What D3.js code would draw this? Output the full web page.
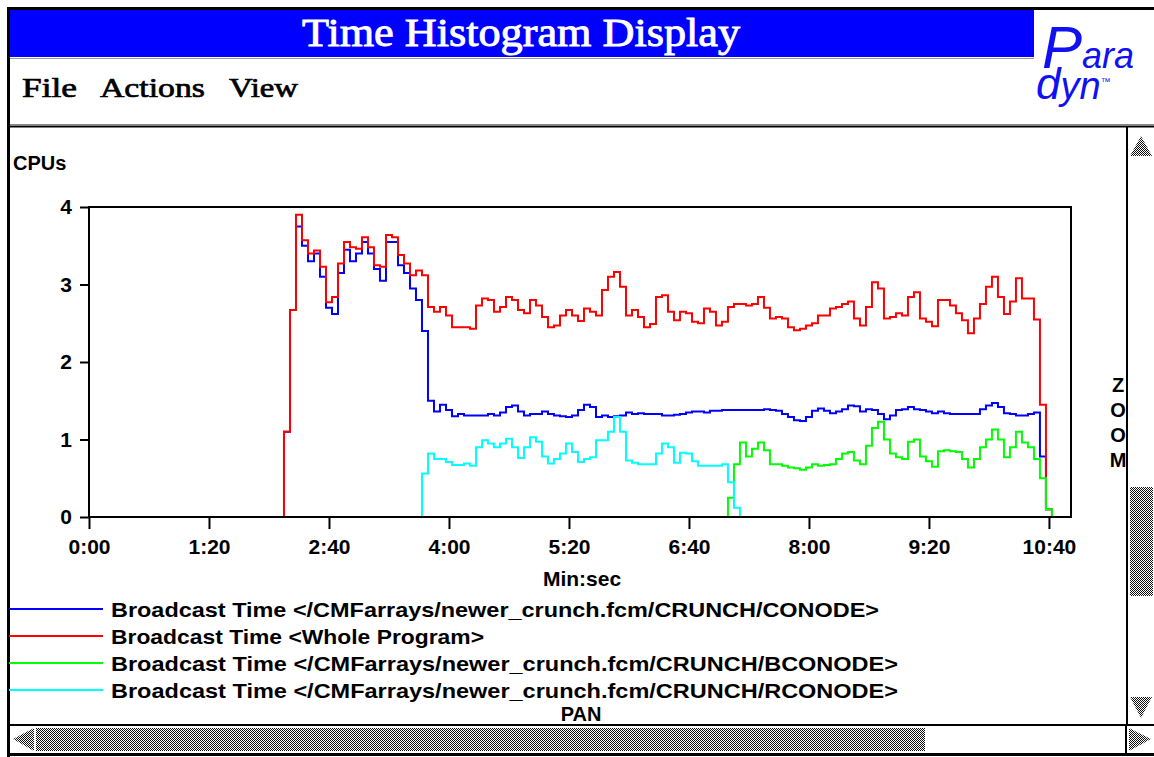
<!DOCTYPE html>
<html>
<head>
<meta charset="utf-8">
<script src="https://cdn.jsdelivr.net/npm/d3@7"></script>
<style>
  html, body { margin: 0; padding: 0; background: #fff; overflow: hidden; }
  svg { display: block; }
</style>
</head>
<body>
<svg id="chart"></svg>
<script>
// histogram bin times (seconds since start)
const binSec = [
  128,132,136,140,144,148,152,156,160,164,
  168,172,176,180,184,188,192,196,200,204,
  208,212,216,220,224,228,232,236,240,244,
  248,252,256,260,264,268,272,276,280,284,
  288,292,296,300,304,308,312,316,320,324,
  328,332,336,340,344,348,352,356,360,364,
  368,372,376,380,384,388,392,396,400,404,
  408,412,416,420,424,428,432,436,440,444,
  448,452,456,460,464,468,472,476,480,484,
  488,492,496,500,504,508,512,516,520,524,
  528,532,536,540,544,548,552,556,560,564,
  568,572,576,580,584,588,592,596,600,604,
  608,612,616,620,624,628,632,636,640,644
];

// CPUs, Broadcast Time <Whole Program>
const wholeProgram = [
  0, 1.1, 2.67, 3.9, 3.57, 3.4, 3.44, 3.23, 2.77, 2.84,
  3.27, 3.55, 3.48, 3.46, 3.61, 3.48, 3.25, 3.23, 3.64, 3.61,
  3.38, 3.27, 3.12, 3.18, 3.12, 2.71, 2.65, 2.71, 2.6, 2.45,
  2.45, 2.45, 2.43, 2.73, 2.82, 2.8, 2.65, 2.71, 2.84, 2.8,
  2.67, 2.63, 2.8, 2.73, 2.58, 2.45, 2.47, 2.6, 2.67, 2.6,
  2.53, 2.69, 2.65, 2.6, 2.93, 3.1, 3.16, 2.97, 2.6, 2.67,
  2.58, 2.45, 2.49, 2.84, 2.86, 2.65, 2.54, 2.65, 2.63, 2.52,
  2.5, 2.69, 2.65, 2.47, 2.52, 2.71, 2.75, 2.75, 2.73, 2.75,
  2.84, 2.7, 2.56, 2.58, 2.56, 2.45, 2.41, 2.43, 2.47, 2.5,
  2.6, 2.6, 2.69, 2.71, 2.75, 2.78, 2.56, 2.47, 2.71, 3.03,
  2.95, 2.56, 2.58, 2.63, 2.6, 2.84, 2.9, 2.56, 2.52, 2.46,
  2.8, 2.8, 2.73, 2.63, 2.54, 2.37, 2.56, 2.75, 2.97, 3.1,
  2.84, 2.62, 2.78, 3.08, 2.82, 2.82, 2.55, 1.45, 0.1, 0
];

// CPUs, Broadcast Time </CMFarrays/newer_crunch.fcm/CRUNCH/CONODE>
const conode = [
  0, 1.1, 2.67, 3.75, 3.5, 3.3, 3.4, 3.1, 2.7, 2.62,
  3.15, 3.45, 3.3, 3.4, 3.55, 3.4, 3.2, 3.05, 3.55, 3.55,
  3.25, 3.15, 2.95, 2.8, 2.4, 1.5, 1.36, 1.45, 1.38, 1.3,
  1.33, 1.31, 1.31, 1.31, 1.31, 1.33, 1.31, 1.35, 1.42, 1.44,
  1.36, 1.31, 1.33, 1.33, 1.36, 1.33, 1.31, 1.3, 1.29, 1.31,
  1.38, 1.45, 1.42, 1.29, 1.31, 1.29, 1.3, 1.31, 1.35, 1.33,
  1.34, 1.33, 1.33, 1.33, 1.31, 1.31, 1.32, 1.33, 1.35, 1.36,
  1.36, 1.35, 1.37, 1.37, 1.38, 1.38, 1.38, 1.38, 1.38, 1.38,
  1.38, 1.39, 1.38, 1.37, 1.33, 1.29, 1.25, 1.24, 1.29, 1.37,
  1.4, 1.37, 1.34, 1.36, 1.39, 1.44, 1.43, 1.36, 1.39, 1.38,
  1.33, 1.26, 1.31, 1.38, 1.39, 1.42, 1.39, 1.38, 1.36, 1.34,
  1.36, 1.34, 1.33, 1.33, 1.33, 1.33, 1.33, 1.39, 1.44, 1.47,
  1.42, 1.34, 1.33, 1.31, 1.31, 1.33, 1.35, 0.78, 0.1, 0
];

// CPUs, Broadcast Time </CMFarrays/newer_crunch.fcm/CRUNCH/RCONODE>, from 220 s
const rconodeStart = 220;
const rconode = [
  0, 0.56, 0.82, 0.75, 0.75, 0.71, 0.67,
  0.67, 0.69, 0.66, 0.9, 0.99, 0.95, 0.9, 0.95, 1.01, 0.9,
  0.76, 0.9, 1.03, 0.97, 0.78, 0.69, 0.75, 0.82, 0.95, 0.84,
  0.71, 0.75, 0.77, 0.99, 0.99, 1.1, 1.29, 1.1, 0.73, 0.7,
  0.68, 0.68, 0.68, 0.82, 0.95, 0.9, 0.7, 0.83, 0.82, 0.72,
  0.66, 0.66, 0.66, 0.66, 0.68, 0.45, 0.12, 0
];

// CPUs, Broadcast Time </CMFarrays/newer_crunch.fcm/CRUNCH/BCONODE>, from 424 s
const bconodeStart = 424;
const bconode = [
  0, 0.25, 0.68, 0.96, 0.78, 0.88,
  0.96, 0.86, 0.68, 0.68, 0.66, 0.64, 0.63, 0.61, 0.64, 0.68,
  0.66, 0.67, 0.68, 0.75, 0.82, 0.84, 0.73, 0.68, 0.92, 1.15,
  1.23, 1.0, 0.82, 0.77, 0.75, 0.97, 1.0, 0.78, 0.72, 0.65,
  0.85, 0.86, 0.85, 0.84, 0.75, 0.64, 0.75, 0.9, 1.0, 1.13,
  1.0, 0.77, 0.9, 1.1, 0.96, 0.9, 0.75, 0.5, 0.1, 0
];

const legendLabels = [
  "Broadcast Time </CMFarrays/newer_crunch.fcm/CRUNCH/CONODE>",
  "Broadcast Time <Whole Program>",
  "Broadcast Time </CMFarrays/newer_crunch.fcm/CRUNCH/BCONODE>",
  "Broadcast Time </CMFarrays/newer_crunch.fcm/CRUNCH/RCONODE>"
];
const xTicks = [0, 80, 160, 240, 320, 400, 480, 560, 640];
const yTicks = [0, 1, 2, 3, 4];

const width = 1154, height = 757;
const sans = "'Liberation Sans', Arial, Helvetica, sans-serif";
const serif = "'Liberation Serif', 'Times New Roman', serif";

const svg = d3.select("#chart").attr("width", width).attr("height", height);

// stipple used by the motif scrollbars
const defs = svg.append("defs");
const pat = defs.append("pattern").attr("id", "stipple")
    .attr("patternUnits", "userSpaceOnUse").attr("width", 2).attr("height", 2);
pat.append("rect").attr("width", 2).attr("height", 2).attr("fill", "#fff");
pat.append("rect").attr("width", 1).attr("height", 1).attr("fill", "#111");
pat.append("rect").attr("x", 1).attr("y", 1).attr("width", 1).attr("height", 1).attr("fill", "#111");

// window frame
svg.append("rect").attr("width", width).attr("height", height).attr("fill", "#fff");
svg.append("rect").attr("x", 7).attr("y", 7).attr("width", width).attr("height", 3).attr("fill", "#000");
svg.append("rect").attr("x", 7).attr("y", 7).attr("width", 3).attr("height", 750).attr("fill", "#000");
svg.append("rect").attr("x", 7).attr("y", 753).attr("width", width).attr("height", 3).attr("fill", "#000");

// title bar
svg.append("rect").attr("x", 10).attr("y", 10).attr("width", 1024).attr("height", 47).attr("fill", "#0000ff");
svg.append("line").attr("x1", 10).attr("x2", 1034).attr("y1", 58.5).attr("y2", 58.5)
    .attr("stroke", "#999").attr("stroke-width", 1);
svg.append("text").attr("x", 302).attr("y", 46)
    .attr("textLength", 438).attr("lengthAdjust", "spacingAndGlyphs")
    .style("font-family", serif).style("font-size", "40px")
    .attr("fill", "#fff").attr("stroke", "#fff").attr("stroke-width", 0.9)
    .text("Time Histogram Display");

// Paradyn logo, one text element
const logo = svg.append("text").attr("fill", "#1010f0")
    .style("font-family", sans).style("font-style", "italic");
logo.append("tspan").attr("x", 1042).attr("y", 68).style("font-size", "60px").text("P");
logo.append("tspan").style("font-size", "36px").text("ara");
logo.append("tspan").attr("x", 1036).attr("y", 99).style("font-size", "44px").text("d");
logo.append("tspan").style("font-size", "38px").text("yn");
logo.append("tspan").attr("dy", -14).style("font-size", "10px").text("™");

// menu bar
const menu = [["File", 22, 55], ["Actions", 100, 105], ["View", 229, 69]];
svg.selectAll(".menu").data(menu).enter().append("text")
    .attr("x", d => d[1]).attr("y", 97)
    .attr("textLength", d => d[2]).attr("lengthAdjust", "spacingAndGlyphs")
    .style("font-family", serif).style("font-size", "28px")
    .attr("fill", "#000").attr("stroke", "#000").attr("stroke-width", 0.7)
    .text(d => d[0]);
svg.append("line").attr("x1", 10).attr("x2", width).attr("y1", 124.5).attr("y2", 124.5)
    .attr("stroke", "#888").attr("stroke-width", 1);
svg.append("line").attr("x1", 10).attr("x2", width).attr("y1", 126.5).attr("y2", 126.5)
    .attr("stroke", "#000").attr("stroke-width", 2);

// plot area
const plot = { left: 89, right: 1071, top: 207, bottom: 517 };
const x = d3.scaleLinear().domain([0, 654.7]).range([plot.left, plot.right]);
const y = d3.scaleLinear().domain([0, 4]).range([plot.bottom, plot.top]);

const fmt = s => Math.floor(s / 60) + ":" + String(s % 60).padStart(2, "0");

const xAxis = svg.append("g").attr("transform", `translate(0,${plot.bottom})`)
    .call(d3.axisBottom(x).tickValues(xTicks).tickFormat(fmt).tickSize(12).tickSizeOuter(0).tickPadding(10));
const yAxis = svg.append("g").attr("transform", `translate(${plot.left},0)`)
    .call(d3.axisLeft(y).tickValues(yTicks).tickFormat(d3.format("d")).tickSize(9).tickSizeOuter(0).tickPadding(8));
[xAxis, yAxis].forEach(g => {
    g.select(".domain").remove();
    g.selectAll(".tick line").attr("stroke", "#000").attr("stroke-width", 2);
    g.selectAll(".tick text").attr("fill", "#000")
        .style("font-family", sans).style("font-size", "21px").style("font-weight", "bold");
});

// series
const series = [
    { name: "conode", values: conode, start: binSec[0], color: "#0000ff" },
    { name: "whole", values: wholeProgram, start: binSec[0], color: "#ff0000" },
    { name: "bconode", values: bconode, start: bconodeStart, color: "#00ff00" },
    { name: "rconode", values: rconode, start: rconodeStart, color: "#00ffff" }
];

const line = d3.line()
    .x(d => x(d[0]))
    .y(d => y(d[1]))
    .curve(d3.curveStep);

series.forEach(s => {
    const off = binSec.indexOf(s.start);
    const pts = s.values.map((v, i) => [binSec[off + i], v]);
    svg.append("path")
        .datum(pts)
        .attr("d", line)
        .attr("fill", "none")
        .attr("stroke", s.color)
        .attr("stroke-width", 2)
        .attr("stroke-linejoin", "miter");
});

// frame of the plot
svg.append("rect")
    .attr("x", plot.left).attr("y", plot.top)
    .attr("width", plot.right - plot.left).attr("height", plot.bottom - plot.top)
    .attr("fill", "none").attr("stroke", "#000").attr("stroke-width", 2);

// axis titles
svg.append("text").attr("x", 13).attr("y", 170)
    .style("font-family", sans).style("font-size", "20px").style("font-weight", "bold")
    .text("CPUs");
svg.append("text").attr("x", 582).attr("y", 586).attr("text-anchor", "middle")
    .style("font-family", sans).style("font-size", "21px").style("font-weight", "bold")
    .text("Min:sec");

// legend
const legendColors = ["#0000ff", "#ff0000", "#00ff00", "#00ffff"];
const legendWidths = [768, 373, 787, 787];
const leg = svg.selectAll(".leg").data(legendLabels).enter().append("g")
    .attr("transform", (d, i) => `translate(0,${609 + i * 27})`);
leg.append("line").attr("x1", 9).attr("x2", 103).attr("y1", 0).attr("y2", 0)
    .attr("stroke", (d, i) => legendColors[i]).attr("stroke-width", 2);
leg.append("text").attr("x", 111).attr("y", 8)
    .attr("textLength", (d, i) => legendWidths[i]).attr("lengthAdjust", "spacingAndGlyphs")
    .style("font-family", sans).style("font-size", "21px").style("font-weight", "bold")
    .text(d => d);

svg.append("text").attr("x", 581).attr("y", 721).attr("text-anchor", "middle")
    .style("font-family", sans).style("font-size", "20px").style("font-weight", "bold")
    .text("PAN");

// vertical scrollbar (zoom)
svg.append("line").attr("x1", 1127).attr("x2", 1127).attr("y1", 127).attr("y2", 725)
    .attr("stroke", "#000").attr("stroke-width", 2);
svg.append("path").attr("d", "M1141,136 L1152,156 L1130,156 Z").attr("fill", "url(#stipple)");
svg.append("rect").attr("x", 1130).attr("y", 487).attr("width", 23).attr("height", 109).attr("fill", "url(#stipple)");
svg.append("path").attr("d", "M1130,697 L1152,697 L1141,718 Z").attr("fill", "url(#stipple)");
svg.selectAll(".zoomch").data(["Z", "O", "O", "M"]).enter().append("text")
    .attr("x", 1118).attr("y", (d, i) => 392 + i * 25).attr("text-anchor", "middle")
    .style("font-family", sans).style("font-size", "20px").style("font-weight", "bold")
    .text(d => d);

// horizontal scrollbar (pan)
svg.append("line").attr("x1", 10).attr("x2", width).attr("y1", 725).attr("y2", 725)
    .attr("stroke", "#000").attr("stroke-width", 2);
svg.append("path").attr("d", "M13,739 L34,728 L34,751 Z").attr("fill", "url(#stipple)");
svg.append("rect").attr("x", 36).attr("y", 728).attr("width", 889).attr("height", 23).attr("fill", "url(#stipple)");
svg.append("line").attr("x1", 1126).attr("x2", 1126).attr("y1", 726).attr("y2", 753)
    .attr("stroke", "#000").attr("stroke-width", 2);
svg.append("path").attr("d", "M1129,728 L1151,739 L1129,751 Z").attr("fill", "url(#stipple)");
</script>
</body>
</html>
